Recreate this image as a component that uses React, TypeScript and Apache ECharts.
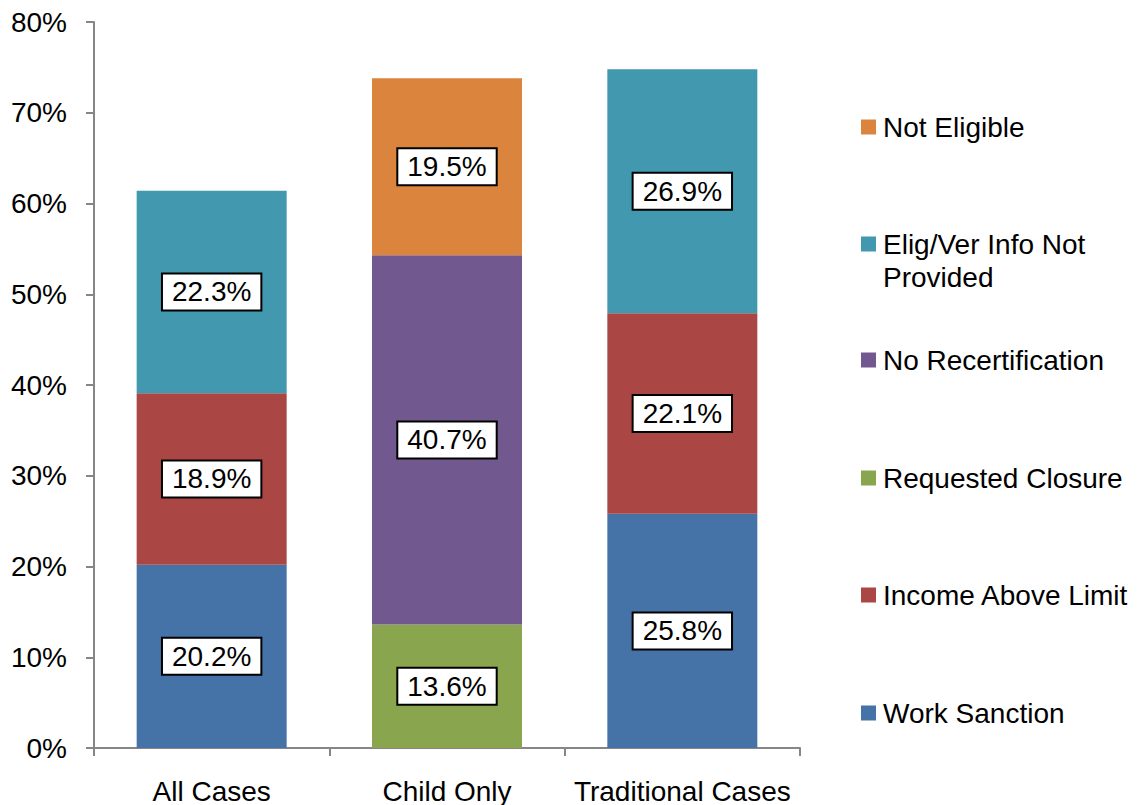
import React, { useEffect, useRef } from "react";
import * as echarts from "echarts";

const categories = ["All Cases", "Child Only", "Traditional Cases"];
const workSanction = [20.2, null, 25.8];
const incomeAboveLimit = [18.9, null, 22.1];
const requestedClosure = [null, 13.6, null];
const noRecertification = [null, 40.7, null];
const eligVerInfo = [22.3, null, 26.9];
const notEligible = [null, 19.5, null];
const yTicks = { min: 0, max: 80, interval: 10 };

const seriesDefs = [
  { name: "Work Sanction", data: workSanction, color: "#4572A7" },
  { name: "Income Above Limit", data: incomeAboveLimit, color: "#AA4643" },
  { name: "Requested Closure", data: requestedClosure, color: "#89A54E" },
  { name: "No Recertification", data: noRecertification, color: "#71588F" },
  { name: "Elig/Ver Info Not Provided", data: eligVerInfo, color: "#4198AF" },
  { name: "Not Eligible", data: notEligible, color: "#DB843D" },
];

const FONT = "'Liberation Sans', Arial, sans-serif";

export default function App() {
  const ref = useRef<HTMLDivElement>(null);
  useEffect(() => {
    document.body.style.margin = "0";
    if (!ref.current) return;
    const chart = echarts.init(ref.current, null, { renderer: "svg" });
    const legendCenters: Record<string, number> = {
      "Not Eligible": 127,
      "Elig/Ver Info Not Provided": 244,
      "No Recertification": 360,
      "Requested Closure": 478,
      "Income Above Limit": 595,
      "Work Sanction": 713,
    };
    const legends = seriesDefs.map((s) => {
      const two = s.name === "Elig/Ver Info Not Provided";
      return {
        orient: "vertical",
        left: 861,
        top: legendCenters[s.name] - (two ? 49.5 : 16.5),
        padding: 0,
        itemWidth: 15,
        itemHeight: 15,
        data: [{ name: s.name, icon: "rect" }],
        selectedMode: false,
        formatter: two ? "{e| }\n{t|Elig/Ver Info Not}\n{t|Provided}" : "{name}",
        textStyle: {
          fontFamily: FONT,
          fontSize: 28,
          color: "#000",
          lineHeight: 33,
          padding: [0, 0, 0, 2],
          rich: {
            e: { fontFamily: FONT, fontSize: 28, lineHeight: 33, color: "#000" },
            t: { fontFamily: FONT, fontSize: 28, lineHeight: 33, color: "#000" },
          },
        },
      };
    });
    chart.setOption({
      animation: false,
      textStyle: { fontFamily: FONT },
      grid: { left: 94, right: 346, top: 22, bottom: 57, containLabel: false },
      legend: legends,
      xAxis: {
        type: "category",
        data: categories,
        axisLine: { lineStyle: { color: "#868686", width: 2 } },
        axisTick: { show: true, length: 8, lineStyle: { color: "#868686", width: 2 } },
        axisLabel: { fontFamily: FONT, fontSize: 28, color: "#000", margin: 29, interval: 0 },
      },
      yAxis: {
        type: "value",
        min: yTicks.min,
        max: yTicks.max,
        interval: yTicks.interval,
        splitLine: { show: false },
        axisLine: { show: true, lineStyle: { color: "#868686", width: 2 } },
        axisTick: { show: true, length: 8, lineStyle: { color: "#868686", width: 2 } },
        axisLabel: {
          fontFamily: FONT,
          fontSize: 28,
          color: "#000",
          margin: 27,
          formatter: "{value}%",
        },
      },
      series: seriesDefs.map((s) => ({
        name: s.name,
        type: "bar",
        stack: "total",
        barWidth: 150,
        data: s.data,
        itemStyle: { color: s.color },
        label: {
          show: true,
          position: "inside",
          formatter: (p: any) => (p.value == null ? "" : Number(p.value).toFixed(1) + "%"),
          fontFamily: FONT,
          fontSize: 28,
          color: "#000",
          backgroundColor: "#fff",
          borderColor: "#000",
          borderWidth: 2,
          padding: [4, 9, 3, 9],
        },
      })),
    });
    return () => chart.dispose();
  }, []);
  return <div ref={ref} style={{ width: 1146, height: 805 }} />;
}
